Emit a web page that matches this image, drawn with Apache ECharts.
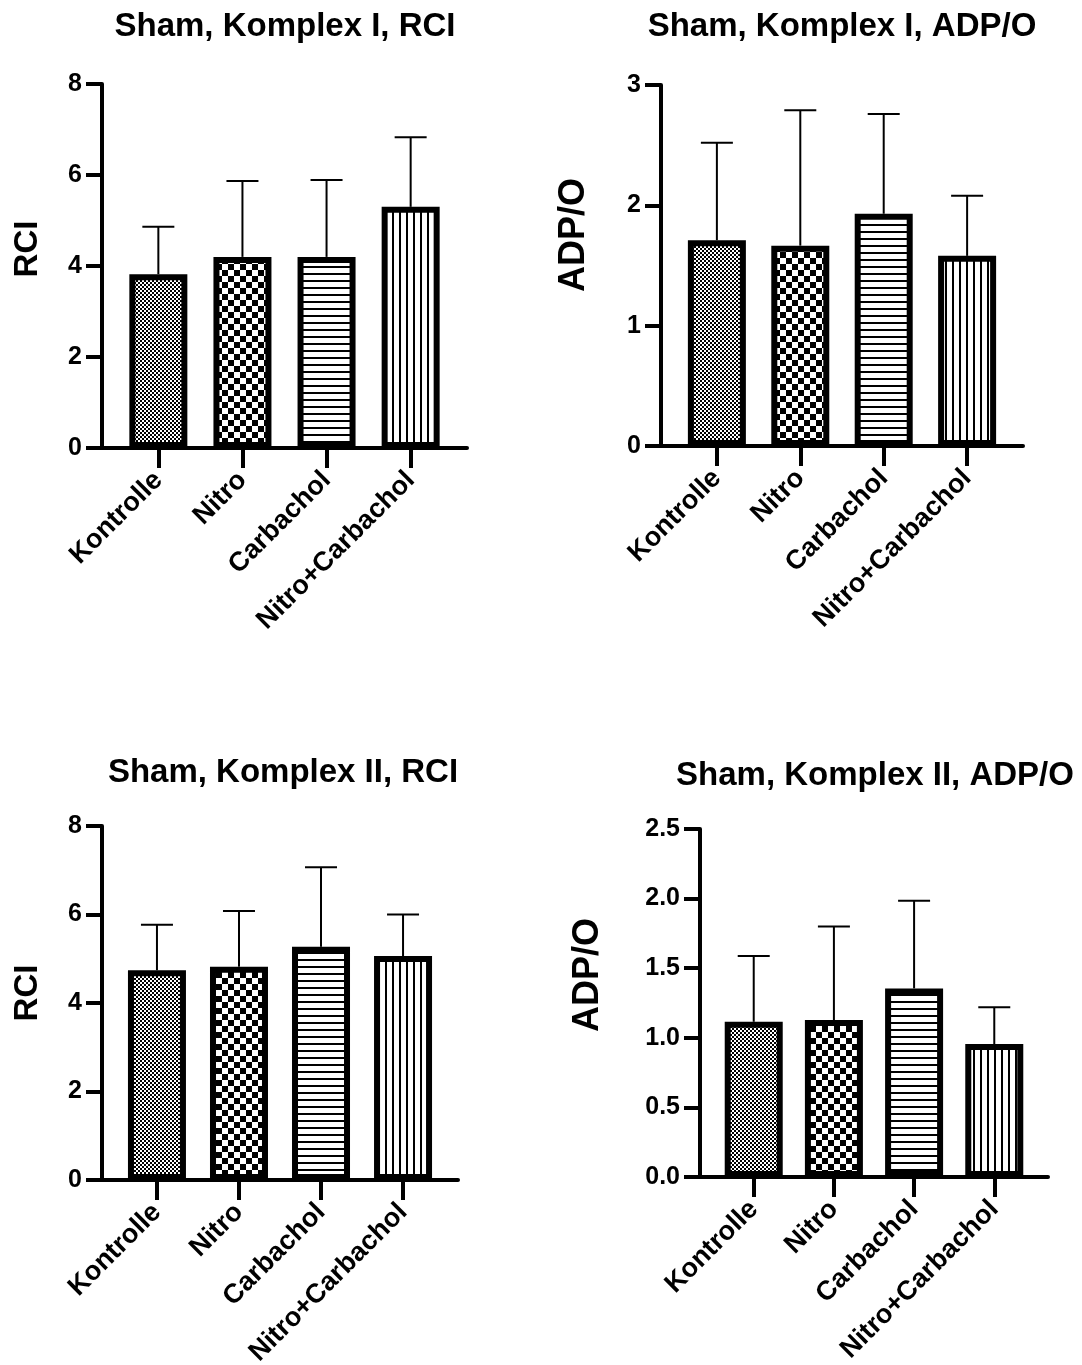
<!DOCTYPE html>
<html><head><meta charset="utf-8">
<script src="https://cdn.jsdelivr.net/npm/echarts@6/dist/echarts.min.js"></script>
<style>html,body{margin:0;padding:0;background:#fff}#c{width:1082px;height:1365px}</style>
</head><body><div id="c"></div>
<script>
// ---- data ----
const categories = ['Kontrolle', 'Nitro', 'Carbachol', 'Nitro+Carbachol'];
const chartTitles = ['Sham, Komplex I, RCI', 'Sham, Komplex I, ADP/O', 'Sham, Komplex II, RCI', 'Sham, Komplex II, ADP/O'];
const yNames = ['RCI', 'ADP/O', 'RCI', 'ADP/O'];
const k1RciMean = [3.82, 4.20, 4.20, 5.30];
const k1RciSd   = [1.04, 1.67, 1.69, 1.53];
const k1AdpMean = [1.71, 1.665, 1.93, 1.58];
const k1AdpSd   = [0.81, 1.125, 0.83, 0.50];
const k2RciMean = [4.74, 4.82, 5.27, 5.06];
const k2RciSd   = [1.03, 1.26, 1.80, 0.94];
const k2AdpMean = [1.115, 1.127, 1.355, 0.955];
const k2AdpSd   = [0.473, 0.673, 0.63, 0.265];
const yMax = [8, 3, 8, 2.5];
const yInterval = [2, 1, 2, 0.5];
const yDecimals = [0, 0, 0, 1];

const means = [k1RciMean, k1AdpMean, k2RciMean, k2AdpMean];
const sds = [k1RciSd, k1AdpSd, k2RciSd, k2AdpSd];

// ---- layout ----
const grids = [
  {left: 102, top: 84, width: 365, height: 364, outerBoundsMode: 'none', containLabel: false},
  {left: 661, top: 85, width: 362, height: 361, outerBoundsMode: 'none', containLabel: false},
  {left: 102, top: 826, width: 356, height: 354, outerBoundsMode: 'none', containLabel: false},
  {left: 700, top: 829, width: 348, height: 348, outerBoundsMode: 'none', containLabel: false}
];
const titlePos = [[285, 27], [842, 27], [283, 773], [875, 776]];
const yNamePos = [[28, 249], [574, 235], [28, 993], [588, 975]];
const yNameSize = [33, 36, 33, 36];
const FONT = "'Liberation Sans', Arial, sans-serif";

function makePattern(kind) {
  const c = document.createElement('canvas');
  let w, h;
  if (kind === 'fine') { w = h = 4; }
  else if (kind === 'coarse') { w = h = 12; }
  else { w = h = 7; }
  c.width = w; c.height = h;
  const g = c.getContext('2d');
  g.fillStyle = '#fff'; g.fillRect(0, 0, w, h);
  g.fillStyle = '#000';
  if (kind === 'fine') { g.fillRect(0, 0, 2, 2); g.fillRect(2, 2, 2, 2); }
  else if (kind === 'coarse') { g.fillRect(0, 0, 6, 6); g.fillRect(6, 6, 6, 6); }
  else if (kind === 'h') { g.fillRect(0, 0, 7, 2); }
  else { g.fillRect(0, 0, 2, 7); }
  return {image: c, repeat: 'repeat'};
}
const patterns = [makePattern('fine'), makePattern('coarse'), makePattern('h'), makePattern('v')];

const xAxes = [], yAxes = [], series = [], graphics = [];
for (let i = 0; i < 4; i++) {
  xAxes.push({
    type: 'value', gridIndex: i, min: -0.67, max: 3.67,
    axisLine: {show: true, onZero: false, lineStyle: {color: '#000', width: 4}},
    axisTick: {show: true, customValues: [0, 1, 2, 3], length: 20, lineStyle: {color: '#000', width: 4}},
    axisLabel: {
      show: true, customValues: [0, 1, 2, 3], rotate: 45, margin: 28,
      fontFamily: FONT, fontWeight: 'bold', fontSize: 27, color: '#000',
      formatter: v => categories[Math.round(v)]
    },
    splitLine: {show: false}
  });
  yAxes.push({
    type: 'value', gridIndex: i, min: 0, max: yMax[i], interval: yInterval[i],
    axisLine: {show: true, onZero: false, lineStyle: {color: '#000', width: 4}},
    axisTick: {show: true, length: 16, lineStyle: {color: '#000', width: 4}},
    axisLabel: {
      margin: 20, fontFamily: FONT, fontWeight: 'bold', fontSize: 25, color: '#000',
      formatter: v => v.toFixed(yDecimals[i])
    },
    splitLine: {show: false}
  });
  series.push({
    type: 'bar', xAxisIndex: i, yAxisIndex: i, barWidth: 58,
    itemStyle: {borderColor: '#000', borderWidth: 6},
    data: means[i].map((v, j) => ({value: [j, v], itemStyle: {color: patterns[j]}})),
    silent: true, animation: false
  });
  series.push({
    type: 'custom', xAxisIndex: i, yAxisIndex: i, z: 1,
    data: means[i].map((v, j) => [j, v, sds[i][j]]),
    encode: {x: 0, y: 1},
    renderItem: (params, api) => {
      const x = api.value(0), m = api.value(1), s = api.value(2);
      const p0 = api.coord([x, m]);
      const p1 = api.coord([x, m + s]);
      const hw = 16;
      return {type: 'group', children: [
        {type: 'line', shape: {x1: p0[0], y1: p0[1], x2: p1[0], y2: p1[1]}, style: {stroke: '#000', lineWidth: 2}},
        {type: 'line', shape: {x1: p1[0] - hw, y1: p1[1], x2: p1[0] + hw, y2: p1[1]}, style: {stroke: '#000', lineWidth: 2}}
      ]};
    },
    silent: true, animation: false
  });
  graphics.push({
    type: 'text', x: titlePos[i][0], y: titlePos[i][1],
    style: {text: chartTitles[i], font: "bold 33px " + FONT, fill: '#000', align: 'center', verticalAlign: 'middle'}
  });
  graphics.push({
    type: 'text', x: yNamePos[i][0], y: yNamePos[i][1], rotation: Math.PI / 2,
    style: {text: yNames[i], font: "bold " + yNameSize[i] + "px " + FONT, fill: '#000', align: 'center', verticalAlign: 'middle'}
  });
}

const chart = echarts.init(document.getElementById('c'), null, {renderer: 'canvas'});
chart.setOption({
  animation: false,
  backgroundColor: '#fff',
  grid: grids,
  xAxis: xAxes,
  yAxis: yAxes,
  series: series,
  graphic: graphics
});
</script>
</body></html>
